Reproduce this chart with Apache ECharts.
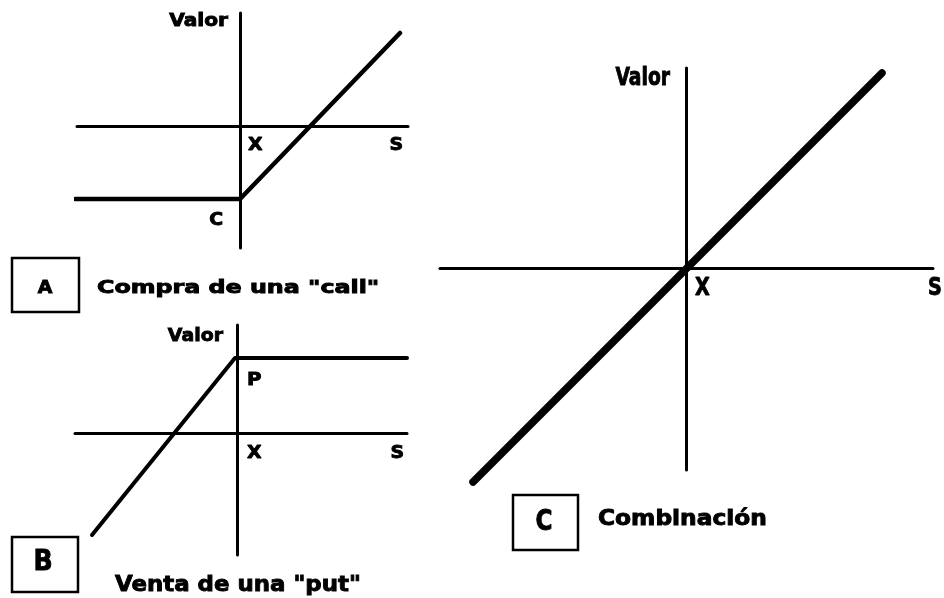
<!DOCTYPE html>
<html lang="es">
  <head>
    <meta charset="UTF-8" />
    <title>Compra de una call y venta de una put</title>
    <style>
      * {
        margin: 0;
        padding: 0;
      }
      html,
      body {
        width: 100%;
        height: 100%;
        background: #fff;
      }
      #grafico {
        width: 944px;
        height: 598px;
      }
    </style>
    <script src="https://cdn.jsdelivr.net/npm/echarts@6.0.0/dist/echarts.min.js"></script>
  </head>
  <body>
    <div id="grafico"></div>
    <script>
      // rangos de los ejes: S en horizontal, Valor en vertical (X en el cero)
      var rangoSA = [-16.3, 16.8];
      var rangoValorA = [-12.2, 11.3];
      var rangoSB = [-16.2, 17.0];
      var rangoValorB = [-12.2, 10.8];
      var rangoSC = [-24.6, 24.7];
      var rangoValorC = [-20.2, 20.0];

      // valor de cada posicion frente a S
      var compraCall = [[-16.5, -7.3], [0, -7.3], [16, 9.3]];
      var ventaPut = [[-14.5, -10.2], [-0.2, 7.5], [17, 7.5]];
      var combinacion = [[-21.3, -21.4], [19.6, 19.5]];

      var primaCall = -7.3;
      var primaPut = 7.5;

      // textos
      var letras = ["A", "B", "C"];
      var titulos = ['Compra de una "call"', 'Venta de una "put"', "Combinación"];
      var nombreEjeY = "Valor";
      var nombreEjeX = "S";
      var etiquetaOrigen = "X";
      var etiquetaPrima = ["C", "P"];

      var fuente = '"DejaVu Sans", sans-serif';

      function ejeX(i, r) {
        return {
          type: "value",
          gridIndex: i,
          min: r[0],
          max: r[1],
          axisLine: { onZero: true, lineStyle: { color: "#000", width: 3 } },
          axisTick: { show: false },
          axisLabel: { show: false },
          splitLine: { show: false },
        };
      }
      var ejeY = ejeX;

      function linea(i, datos, ancho) {
        return {
          type: "line",
          xAxisIndex: i,
          yAxisIndex: i,
          data: datos,
          symbol: "none",
          clip: false,
          silent: true,
          z: 3,
          lineStyle: { color: "#000", width: ancho, cap: "round", join: "round" },
        };
      }

      var option = {
        backgroundColor: "#fff",
        animation: false,
        grid: [
          { left: 77, top: 13, width: 331, height: 235 },
          { left: 75, top: 325, width: 332, height: 230 },
          { left: 440, top: 68, width: 493, height: 402 },
        ],
        xAxis: [ejeX(0, rangoSA), ejeX(1, rangoSB), ejeX(2, rangoSC)],
        yAxis: [ejeY(0, rangoValorA), ejeY(1, rangoValorB), ejeY(2, rangoValorC)],
        series: [
          linea(0, compraCall, 4.5),
          linea(1, ventaPut, 4),
          linea(2, combinacion, 7.5),
        ],
      };

      var chart = echarts.init(document.getElementById("grafico"));
      chart.setOption(option);

      // texto en negrita (con trazo para engrosarlo)
      function texto(px, py, txt, align, size, sx) {
        return {
          type: "text",
          x: px,
          y: py,
          scaleX: sx,
          silent: true,
          z: 10,
          style: {
            text: txt,
            fill: "#000",
            stroke: "#000",
            lineWidth: 0.9,
            align: align,
            verticalAlign: "middle",
            font: "bold " + size + "px " + fuente,
          },
        };
      }
      function enEje(g, punto, dx, dy, txt, align, size, sx) {
        var p = chart.convertToPixel({ gridIndex: g }, punto);
        return texto(p[0] + dx, p[1] + dy, txt, align, size, sx);
      }
      function caja(x, y, w, h) {
        return {
          type: "rect",
          silent: true,
          shape: { x: x, y: y, width: w, height: h },
          style: { fill: "none", stroke: "#000", lineWidth: 2.5 },
        };
      }

      var graficos = [
        // A
        enEje(0, [0, rangoValorA[1]], -12, 8.5, nombreEjeY, "right", 18, 1.12),
        enEje(0, [0, 0], 8, 19, etiquetaOrigen, "left", 18, 1.05),
        enEje(0, [rangoSA[1], 0], -5, 19, nombreEjeX, "right", 18, 1.05),
        enEje(0, [0, primaCall], -17, 21, etiquetaPrima[0], "right", 18, 1.05),
        // B
        enEje(1, [0, rangoValorB[1]], -14, 11, nombreEjeY, "right", 18, 1.05),
        enEje(1, [0, primaPut], 10, 22, etiquetaPrima[1], "left", 18, 1.1),
        enEje(1, [0, 0], 10, 20, etiquetaOrigen, "left", 18, 1.05),
        enEje(1, [rangoSB[1], 0], -3, 20, nombreEjeX, "right", 18, 1.05),
        // C
        enEje(2, [0, rangoValorC[1]], -16, 10.5, nombreEjeY, "right", 24, 0.78),
        enEje(2, [0, 0], 9, 21, etiquetaOrigen, "left", 24, 0.8),
        enEje(2, [rangoSC[1], 0], -5, 21, nombreEjeX, "left", 24, 0.8),
        // cajas con letra y titulos
        caja(12, 258, 67, 54),
        texto(45, 288, letras[0], "center", 18, 1.05),
        texto(97, 288.5, titulos[0], "left", 18, 1.32),
        caja(12, 537, 66, 55),
        texto(43, 562.5, letras[1], "center", 29, 0.87),
        texto(115, 585, titulos[1], "left", 22, 1.04),
        caja(513, 495, 65, 55),
        texto(544, 522, letras[2], "center", 29, 0.8),
        texto(598, 519.5, titulos[2], "left", 21, 1.11),
      ];

      chart.setOption({ graphic: graficos });
    </script>
  </body>
</html>
